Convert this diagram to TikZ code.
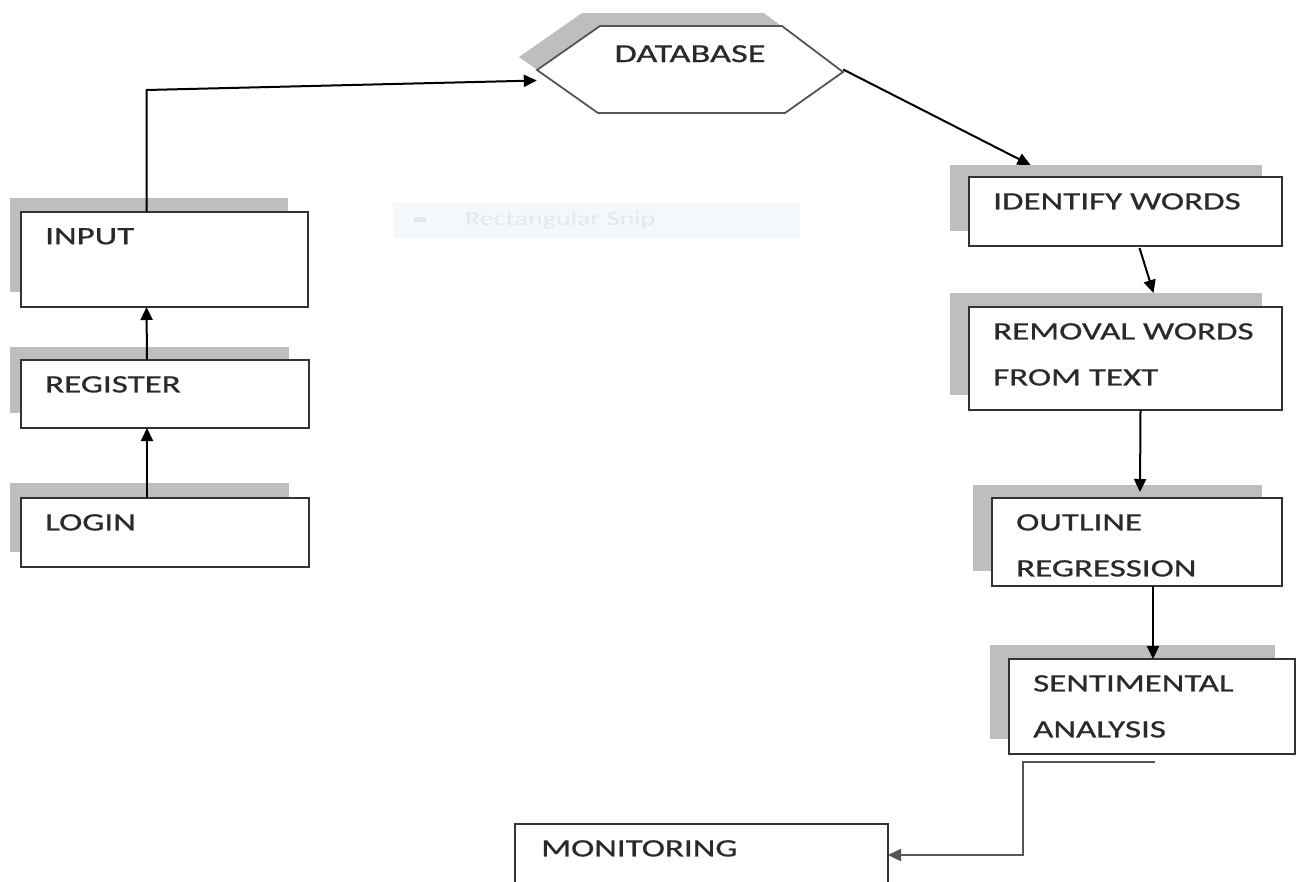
\documentclass[tikz,border=0pt]{standalone}
\usepackage{fontspec}
\usetikzlibrary{arrows.meta}
\newfontfamily\boxfont{Carlito}[FakeStretch=1.4, FakeBold=0.7]
\newfontfamily\snipfont{Carlito}[FakeStretch=1.4]
\definecolor{shadowgray}{HTML}{BEBEBE}
\definecolor{edgegray}{HTML}{333333}
\definecolor{hexgray}{HTML}{555555}
\definecolor{textgray}{HTML}{2A2A2A}
\definecolor{snipblue}{HTML}{F4F8FC}
\definecolor{snipgray}{HTML}{E4E7EC}

\begin{document}
\begin{tikzpicture}[x=1pt, y=-1pt,
  stepbox/.style={draw=edgegray, fill=white, line width=2pt, anchor=north west, inner sep=0pt, outer sep=0pt},
  boxtext/.style={anchor=north west, inner sep=0pt, align=left, text=textgray, font=\boxfont\fontsize{25}{46}\selectfont},
  hexshadow/.style={fill=shadowgray},
  hexface/.style={fill=white, draw=hexgray, line width=1.8pt},
  arr/.style={line width=2pt, -{Triangle[length=13pt, width=12pt]}}]

\useasboundingbox (0,0) rectangle (1300,881);

% faint snip bar left in the screenshot
\fill[snipblue] (393,203) rectangle (800,238);
\fill[snipgray] (414,217) rectangle (426,222);
\node[anchor=west, inner sep=0pt, text=snipgray, font=\snipfont\fontsize{20}{24}\selectfont] (snip) at (465,220) {Rectangular Snip};

% database hexagon with its shadow
\node[minimum width=306pt, minimum height=87pt, inner sep=0pt] (db) at (690,69.5) {};
\foreach \sx/\sy/\sty in {-18/-13/hexshadow, 0/0/hexface}
  \path[\sty] (537+\sx,70+\sy) -- (600+\sx,26+\sy) -- (782+\sx,26+\sy) -- (843+\sx,72+\sy)
    -- (785+\sx,113+\sy) -- (598+\sx,113+\sy) -- cycle;
\node[anchor=north, inner sep=0pt, text=textgray, font=\boxfont\fontsize{26}{30}\selectfont] (db-txt) at (690,45) {DATABASE};

% boxes: name/left/top/width/height/shadow x/shadow y/label
\foreach \name/\x/\y/\w/\h/\dx/\dy/\txt in {
  input/21/212/287/95/-11/-14/{INPUT},
  register/21/360/288/68/-11/-13/{REGISTER},
  login/21/498/288/69/-11/-15/{LOGIN},
  identify/969/177/313/69/-19/-12/{IDENTIFY WORDS},
  removal/969/307/313/103/-19/-14/{REMOVAL WORDS\\FROM TEXT},
  outline/992/498/290/88/-19/-13/{OUTLINE\\REGRESSION},
  sentimental/1009/659/286/95/-19/-14/{SENTIMENTAL\\ANALYSIS}}
{
  \fill[shadowgray] (\x+\dx,\y+\dy) rectangle (\x+\w-20,\y+\h-15);
  \node[stepbox, minimum width=\w pt, minimum height=\h pt] (\name) at (\x,\y) {};
  \node[boxtext] (\name-txt) at (\x+24,\y+16) {\txt};
}

\node[stepbox, minimum width=373pt, minimum height=62pt] (monitor) at (515,824) {};
\node[boxtext] (monitor-txt) at (541,840) {MONITORING};

% connectors
\draw[arr] ([xshift=-18pt]login.north) -- ([xshift=-18pt]register.south);
\draw[arr] ([xshift=-18pt]register.north) -- ([xshift=-18pt]input.south);
\draw[arr] ([xshift=-18pt]input.north) -- ++(0,-122) -- ([yshift=-11pt]db.west);
\draw[arr] (db.east) -- ([shift={(-95,-12)}]identify.north);
\draw[arr] ([shift={(14,2)}]identify.south) -- ([shift={(28,-14)}]removal.north);
\draw[arr] ([xshift=15pt]removal.south) -- ([shift={(3,-6)}]outline.north);
\draw[arr] ([xshift=16pt]outline.south) -- ([xshift=1pt]sentimental.north);
\coordinate (sa-out) at ([shift={(3,8)}]sentimental.south);
\draw[arr, draw=hexgray, line width=2.4pt] (sa-out) -- (1023,762) |- (monitor.east);

\end{tikzpicture}
\end{document}
